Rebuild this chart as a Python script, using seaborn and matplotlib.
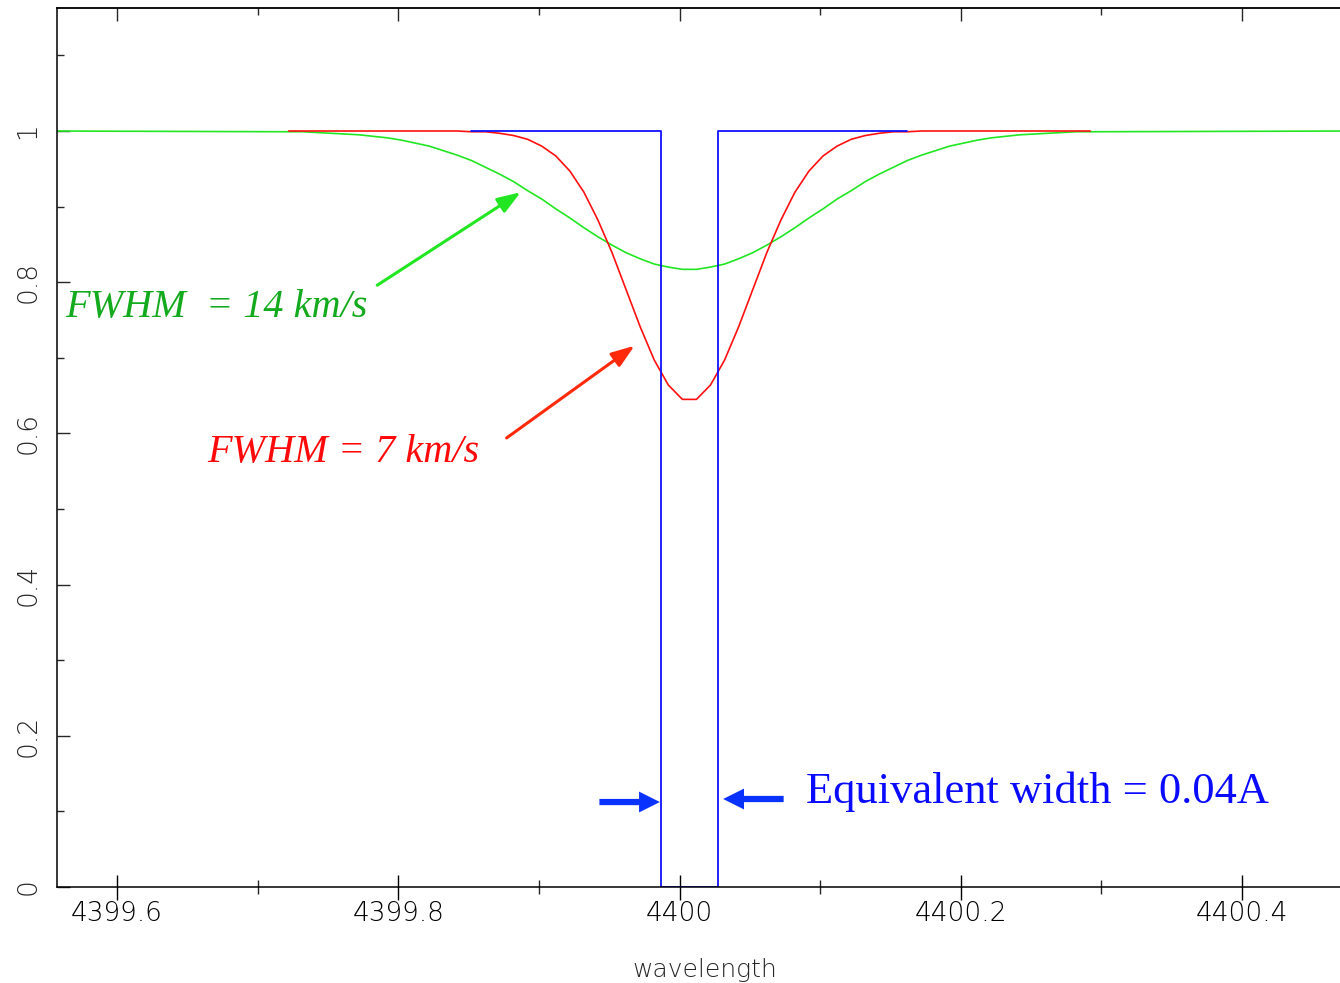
import numpy as np
import matplotlib
matplotlib.use("Agg")
import matplotlib.pyplot as plt
from matplotlib.ticker import MultipleLocator, FixedLocator, FixedFormatter
import seaborn as sns

# Sampling grid of the convolved profiles (0.01 A steps around the line centre)
wl = np.round(4399.722 + 0.01 * np.arange(58), 3)

# Line profile smoothed with a 7 km/s Gaussian
red_flux = [
    1.000, 1.000, 1.000, 1.000, 1.000, 1.000, 1.000, 1.000, 1.000, 1.000, 1.000, 1.000,
    1.000, 0.999, 0.999, 0.997, 0.994, 0.989, 0.980, 0.967, 0.947, 0.919, 0.882, 0.839,
    0.790, 0.741, 0.697, 0.664, 0.645,
    0.645, 0.664, 0.697, 0.741, 0.790, 0.839, 0.882, 0.919, 0.947, 0.967, 0.980, 0.989,
    0.994, 0.997, 0.999, 0.999, 1.000,
    1.000, 1.000, 1.000, 1.000, 1.000, 1.000, 1.000, 1.000, 1.000, 1.000, 1.000, 1.000,
]

# Line profile smoothed with a 14 km/s Gaussian (continuum extends to the plot edges)
green_wl = np.concatenate([[4399.55], wl, [4400.48]])
green_flux = [
    1.000,
    0.999, 0.999, 0.998, 0.997, 0.996, 0.995, 0.993, 0.991, 0.988, 0.984,
    0.980, 0.974, 0.968, 0.961, 0.952, 0.943, 0.933, 0.921, 0.910, 0.897,
    0.885, 0.872, 0.860, 0.849, 0.839, 0.831, 0.824, 0.820, 0.817,
    0.817, 0.820, 0.824, 0.831, 0.839, 0.849, 0.860, 0.872, 0.885,
    0.897, 0.910, 0.921, 0.933, 0.943, 0.952, 0.961, 0.968, 0.974, 0.980,
    0.984, 0.988, 0.991, 0.993, 0.995, 0.996, 0.997, 0.998, 0.999, 0.999,
    1.000,
]

# Equivalent-width box: a fully black line 0.04 A wide
blue_wl = [4399.852, 4399.987, 4399.987, 4400.027, 4400.027, 4400.162]
blue_flux = [1, 1, 0, 0, 1, 1]

xticks = [4399.6, 4399.8, 4400.0, 4400.2, 4400.4]
xtick_labels = ["4399.6", "4399.8", "4400", "4400.2", "4400.4"]
yticks = [0, 0.2, 0.4, 0.6, 0.8, 1.0]
ytick_labels = ["0", "0.2", "0.4", "0.6", "0.8", "1"]

sns.set_style("white")
plt.rcParams["font.family"] = ["DejaVu Sans"]

fig = plt.figure(figsize=(13.4, 9.83), dpi=100)
ax = fig.add_axes([0.04254, 0.09766, 0.9672, 0.8942])

sns.lineplot(x=green_wl, y=green_flux, ax=ax, color="#22e622", lw=1.2,
             estimator=None, sort=False)
sns.lineplot(x=wl, y=red_flux, ax=ax, color="#ff1010", lw=1.2,
             estimator=None, sort=False)
sns.lineplot(x=blue_wl, y=blue_flux, ax=ax, color="#1010ff", lw=1.3,
             estimator=None, sort=False)

ax.set_xlim(4399.5573, 4400.4789)
ax.set_ylim(0, 1.1627)

# Axes frame
for side in ("left", "bottom", "top"):
    ax.spines[side].set_visible(True)
    ax.spines[side].set_color("black")
    ax.spines[side].set_linewidth(1.1)
ax.spines["right"].set_visible(False)

ax.xaxis.set_major_locator(FixedLocator(xticks))
ax.xaxis.set_major_formatter(FixedFormatter(xtick_labels))
ax.xaxis.set_minor_locator(MultipleLocator(0.1))
ax.yaxis.set_major_locator(FixedLocator(yticks))
ax.yaxis.set_major_formatter(FixedFormatter(ytick_labels))
ax.yaxis.set_minor_locator(MultipleLocator(0.1))

ax.tick_params(axis="x", which="major", direction="inout", length=18, width=1.0,
               top=False, bottom=True, pad=1, labelsize=19, colors="black")
ax.tick_params(axis="x", which="minor", direction="inout", length=9.5, width=1.0,
               top=False, bottom=True)
ax.tick_params(axis="y", which="major", direction="in", length=9.5, width=1.0,
               left=True, right=False, pad=12, labelsize=19, labelrotation=90)
ax.tick_params(axis="y", which="minor", direction="in", length=5, width=1.0,
               left=True, right=False)
for lab in ax.get_xticklabels() + ax.get_yticklabels():
    lab.set_fontweight(200)
for lab in ax.get_yticklabels():
    lab.set_va("center")

# Top axis: inward ticks only
top = ax.secondary_xaxis("top")
top.xaxis.set_major_locator(FixedLocator(xticks))
top.xaxis.set_minor_locator(MultipleLocator(0.1))
top.tick_params(axis="x", which="major", direction="in", length=9.5, width=1.0,
                labeltop=False)
top.tick_params(axis="x", which="minor", direction="in", length=5, width=1.0)
top.spines["top"].set_linewidth(1.1)

ax.set_xlabel("wavelength", fontsize=18, fontweight=200, labelpad=23)
ax.set_ylabel("")

# Annotations
serif = "Liberation Serif"
ax.text(4399.563, 0.754, "FWHM  = 14 km/s", color="#14aa1e", fontsize=29,
        family=serif, style="italic", ha="left", va="baseline")
ax.annotate("", xy=(4399.887, 0.919), xytext=(4399.785, 0.796),
            arrowprops=dict(arrowstyle="-|>,head_length=1.4,head_width=0.5",
                            color="#22e622", lw=2.2, shrinkA=0, shrinkB=0))

ax.text(4399.664, 0.562, "FWHM = 7 km/s", color="#ff0a0a", fontsize=29,
        family=serif, style="italic", ha="left", va="baseline")
ax.annotate("", xy=(4399.968, 0.716), xytext=(4399.877, 0.594),
            arrowprops=dict(arrowstyle="-|>,head_length=1.4,head_width=0.5",
                            color="#ff2a0a", lw=2.2, shrinkA=0, shrinkB=0))

ax.text(4400.090, 0.111, "Equivalent width = 0.04A", color="#0a0aff", fontsize=32,
        family=serif, ha="left", va="baseline")
thick = "simple,head_length=1.0,head_width=1.0,tail_width=0.3"
ax.annotate("", xy=(4399.986, 0.1124), xytext=(4399.943, 0.1124),
            arrowprops=dict(arrowstyle=thick, mutation_scale=15, color="#0a32ff",
                            lw=0, shrinkA=0, shrinkB=0))
ax.annotate("", xy=(4400.031, 0.1164), xytext=(4400.074, 0.1164),
            arrowprops=dict(arrowstyle=thick, mutation_scale=15, color="#0a32ff",
                            lw=0, shrinkA=0, shrinkB=0))

fig.savefig("out.png", dpi=100)
